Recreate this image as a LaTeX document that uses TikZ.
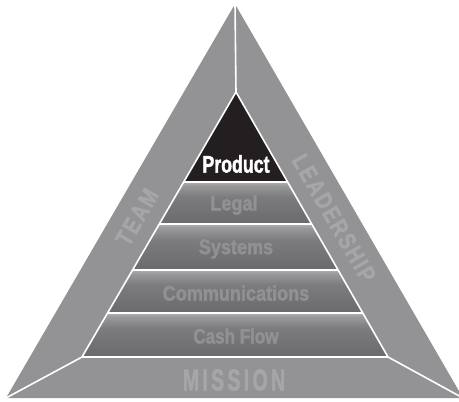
\documentclass[tikz,border=0pt]{standalone}
\usepackage{fontspec}
\setmainfont{Liberation Sans}
\newfontfamily\heavy{Liberation Sans Bold}[FakeBold=2]
\usetikzlibrary{calc}
\definecolor{outergray}{HTML}{939396}
\definecolor{outertext}{HTML}{A6A6A9}
\definecolor{laytop}{HTML}{B0B0B2}
\definecolor{layhi}{HTML}{9A9A9C}
\definecolor{laymid}{HTML}{7C7C7F}
\definecolor{laybot}{HTML}{6A6A6D}
\definecolor{laytext}{HTML}{919194}
\definecolor{prodblack}{HTML}{231F20}
\pgfdeclareverticalshading{laysh}{100bp}{color(0bp)=(laybot); color(25bp)=(laybot); color(58bp)=(laymid); color(71bp)=(layhi); color(75bp)=(laytop); color(100bp)=(laytop)}
\tikzset{
  layer/.style={shading=laysh},
  sep/.style={draw=white, line width=1.6pt},
  laylabel/.style={text=laytext, font=\heavy\fontsize{21}{21}\selectfont, xscale=0.86, inner sep=0pt},
  sidelabel/.style={text=outertext, font=\heavy\fontsize{24}{24}\selectfont\addfontfeature{LetterSpace=11}, xscale=0.8, inner sep=0pt},
}
\begin{document}
\begin{tikzpicture}[x=1pt,y=-1pt]
\useasboundingbox (0,0) rectangle (459,402);
% outer triangle
\coordinate (OA) at (235,4);
\coordinate (OL) at (6,398);
\coordinate (OR) at (463,398);
\fill[outergray] (OA)--(OL)--(OR)--cycle;
% inner triangle
\coordinate (IA) at (236,92);
\coordinate (IL) at (82,357);
\coordinate (IR) at (388,357);
\foreach \n/\t in {1/0.3396,2/0.4981,3/0.6717,4/0.8340}{
  \coordinate (L\n) at ($(IA)!\t!(IL)$);
  \coordinate (R\n) at ($(IA)!\t!(IR)$);
}
\fill[prodblack] (IA)--(L1)--(R1)--cycle;
\shade[layer] (L1)--(L2)--(R2)--(R1)--cycle;
\shade[layer] (L2)--(L3)--(R3)--(R2)--cycle;
\shade[layer] (L3)--(L4)--(R4)--(R3)--cycle;
\shade[layer] (L4)--(IL)--(IR)--(R4)--cycle;
% white lines
\draw[sep] (IA)--(IL)--(IR)--cycle;
\draw[sep] (L1)--(R1);
\draw[sep] (L2)--(R2);
\draw[sep] (L3)--(R3);
\draw[sep] (L4)--(R4);
\draw[sep] (OA)--(IA);
\draw[sep] (OL)--(IL);
\draw[sep] (OR)--(IR);
% labels
\node[text=white, font=\heavy\fontsize{24}{24}\selectfont, xscale=0.74, inner sep=0pt] (product) at (236,164) {Product};
\node[laylabel] (legal) at (234,205) {Legal};
\node[laylabel] (systems) at (236,249) {Systems};
\node[laylabel] (comm) at (236,293) {Communications};
\node[text=laytext, font=\heavy\fontsize{21}{21}\selectfont, xscale=0.81, inner sep=0pt] (cash) at (236,336) {Cash Flow};
\node[text=outertext, font=\heavy\fontsize{30}{30}\selectfont\addfontfeature{LetterSpace=17}, xscale=0.65, inner sep=0pt] (mission) at (234,380) {MISSION};
\node[rotate=60, sidelabel] (team) at (137,217) {TEAM};
\node[rotate=-60, sidelabel] (lead) at (334,218) {LEADERSHIP};
\end{tikzpicture}
\end{document}
